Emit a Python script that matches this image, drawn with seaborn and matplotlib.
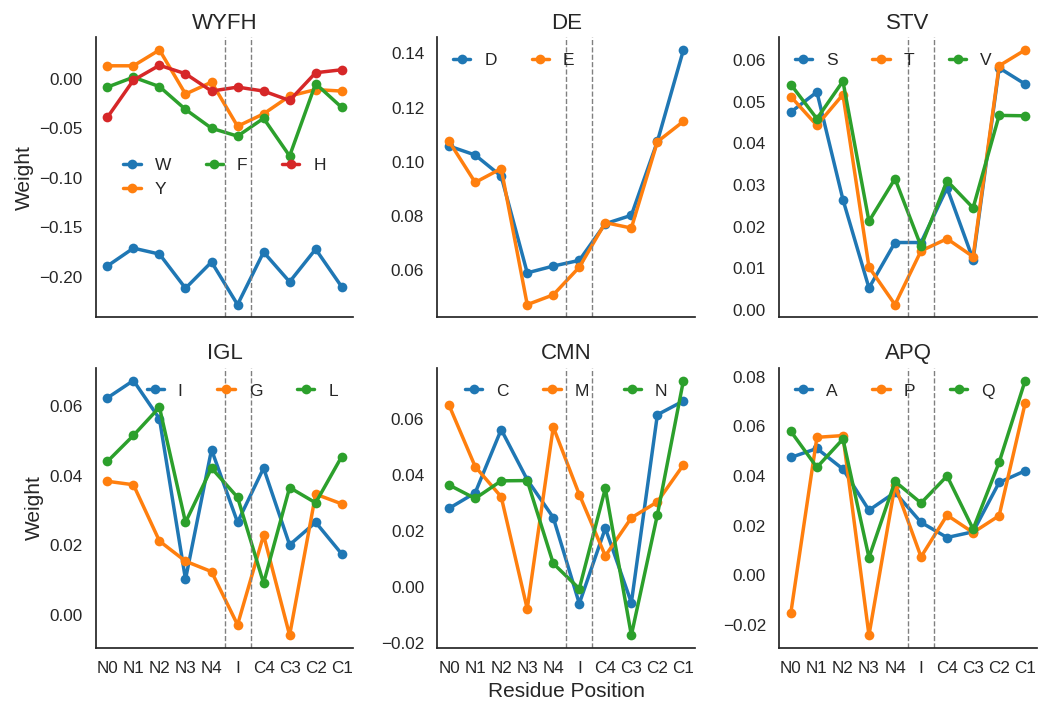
import pandas as pd
import matplotlib
matplotlib.use("Agg")
import matplotlib.pyplot as plt
import seaborn as sns

positions = ["N0", "N1", "N2", "N3", "N4", "I", "C4", "C3", "C2", "C1"]

# weights per residue
W = [-0.189, -0.171, -0.177, -0.2115, -0.185, -0.228, -0.175, -0.205, -0.172, -0.210]
Y = [0.013, 0.013, 0.029, -0.0155, -0.0035, -0.048, -0.0355, -0.0175, -0.011, -0.0125]
F = [-0.0085, 0.0015, -0.008, -0.031, -0.050, -0.058, -0.040, -0.078, -0.005, -0.029]
H = [-0.039, -0.0015, 0.0135, 0.005, -0.0125, -0.0085, -0.0125, -0.022, 0.006, 0.009]

D = [0.1058, 0.1025, 0.0947, 0.0591, 0.0616, 0.0637, 0.0772, 0.0803, 0.1075, 0.1412]
E = [0.1075, 0.0924, 0.0975, 0.0474, 0.0510, 0.0612, 0.0776, 0.0756, 0.1074, 0.1149]

S = [0.0475, 0.0523, 0.0265, 0.0053, 0.0162, 0.0162, 0.0293, 0.0121, 0.0581, 0.0542]
T = [0.0512, 0.0443, 0.0517, 0.0103, 0.0013, 0.0142, 0.0171, 0.0128, 0.0586, 0.0624]
V = [0.0541, 0.0459, 0.0549, 0.0213, 0.0315, 0.0153, 0.0310, 0.0245, 0.0467, 0.0466]

I = [0.0624, 0.0674, 0.0564, 0.0102, 0.0475, 0.0266, 0.0422, 0.0201, 0.0266, 0.0175]
G = [0.0384, 0.0374, 0.0212, 0.0154, 0.0124, -0.0029, 0.0229, -0.0059, 0.0347, 0.0319]
L = [0.0441, 0.0516, 0.0597, 0.0266, 0.0422, 0.0338, 0.0091, 0.0366, 0.0322, 0.0455]

C = [0.0281, 0.0336, 0.0562, 0.0383, 0.0248, -0.0059, 0.0210, -0.0056, 0.0615, 0.0664]
M = [0.0648, 0.0430, 0.0322, -0.0078, 0.0571, 0.0330, 0.0111, 0.0247, 0.0304, 0.0436]
N = [0.0364, 0.0316, 0.0379, 0.0380, 0.0084, -0.0006, 0.0352, -0.0172, 0.0258, 0.0737]

A = [0.0475, 0.0511, 0.0428, 0.0262, 0.0334, 0.0213, 0.0152, 0.0175, 0.0374, 0.0421]
P = [-0.0151, 0.0556, 0.0563, -0.0242, 0.0363, 0.0074, 0.0242, 0.0172, 0.0240, 0.0694]
Q = [0.0580, 0.0435, 0.0549, 0.0071, 0.0378, 0.0291, 0.0400, 0.0186, 0.0455, 0.0785]

groups = [
    ("WYFH", {"W": W, "Y": Y, "F": F, "H": H}, "center"),
    ("DE", {"D": D, "E": E}, "upper left"),
    ("STV", {"S": S, "T": T, "V": V}, "upper left"),
    ("IGL", {"I": I, "G": G, "L": L}, "upper right"),
    ("CMN", {"C": C, "M": M, "N": N}, "upper center"),
    ("APQ", {"A": A, "P": P, "Q": Q}, "upper left"),
]

sns.set_theme(style="white")
plt.rcParams["font.family"] = ["Liberation Sans", "DejaVu Sans"]

fig, axes = plt.subplots(2, 3, figsize=(10.4, 7.02), dpi=100, sharex=True)
fig.subplots_adjust(left=0.092, right=0.997, top=0.947, bottom=0.077,
                    wspace=0.326, hspace=0.18)

for ax, (title, series, loc) in zip(axes.flat, groups):
    rows = []
    for aa, vals in series.items():
        for pos, v in zip(positions, vals):
            rows.append({"Residue Position": pos, "Weight": v, "aa": aa})
    df = pd.DataFrame(rows)
    sns.lineplot(data=df, x="Residue Position", y="Weight", hue="aa",
                 palette="tab10", marker="o", markersize=7,
                 markeredgewidth=0, linewidth=2.5, ax=ax)
    ax.axvline(4.5, color="gray", linestyle="--", linewidth=1)
    ax.axvline(5.5, color="gray", linestyle="--", linewidth=1)
    ax.set_title(title, fontsize=16)
    ax.legend(ncol=3, frameon=False, fontsize=12.5, loc=loc,
              handlelength=1.0, handletextpad=0.8, columnspacing=2.0)
    ax.set_xlabel("")
    ax.set_ylabel("")
    ax.tick_params(labelsize=12.3)
    sns.despine(ax=ax)

axes[0, 0].set_ylabel("Weight", fontsize=15)
axes[1, 0].set_ylabel("Weight", fontsize=15)
axes[1, 1].set_xlabel("Residue Position", fontsize=15)
axes[1, 0].set_xticks(range(len(positions)))
axes[1, 0].set_xticklabels(positions)

fig.savefig("out.png", dpi=100)
